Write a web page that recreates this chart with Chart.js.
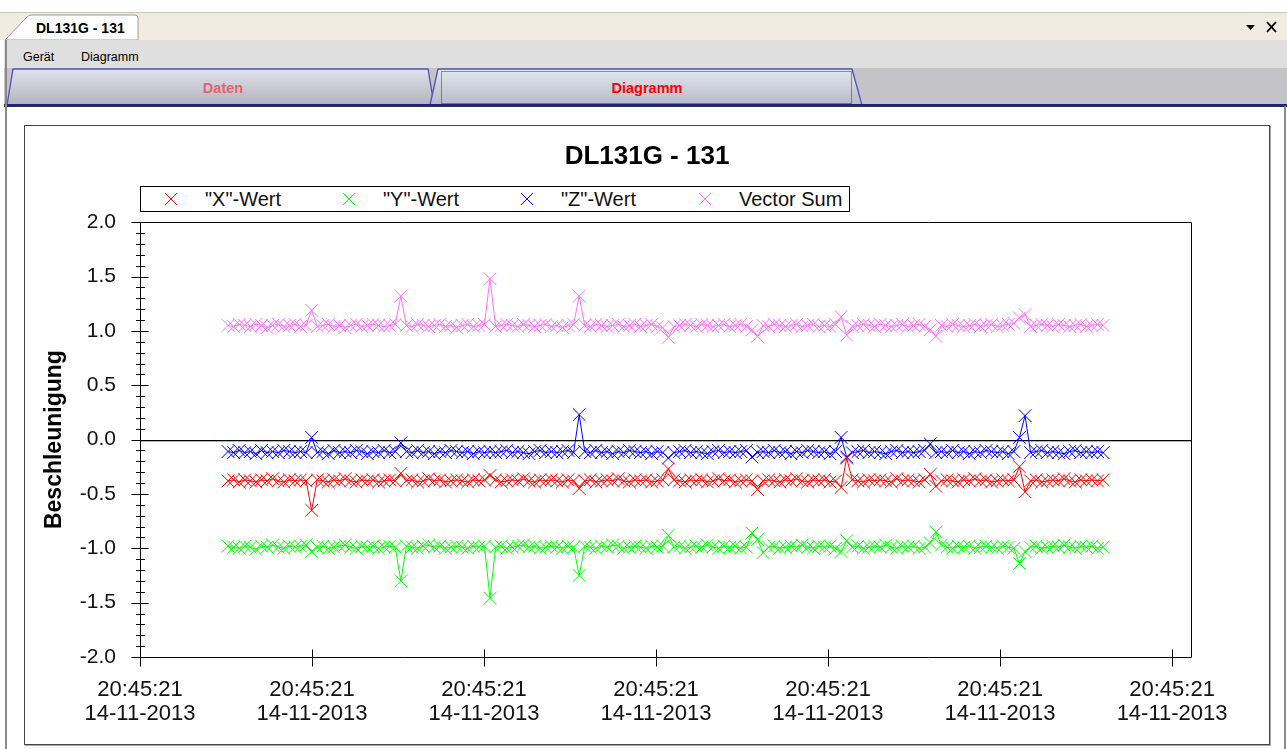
<!DOCTYPE html>
<html>
<head>
<meta charset="utf-8">
<title>DL131G - 131</title>
<script src="https://cdn.jsdelivr.net/npm/chart.js@4.4.1/dist/chart.umd.min.js"></script>
<style>
  html, body { margin: 0; padding: 0; background: #fff; overflow: hidden; }
  body { width: 1287px; height: 749px; position: relative; font-family: 'Liberation Sans', Arial, sans-serif; }
  #chrome { position: absolute; left: 0; top: 0; }
  #frame {
    position: absolute; left: 24px; top: 125px; width: 1244px; height: 618px;
    border: 1px solid #444; box-shadow: 1px 1px 0 #aaa; background: #fff;
  }
  #chart { position: absolute; left: 0; top: 0; }
  #legend {
    position: absolute; left: 115px; top: 60px; width: 710px; height: 26px;
    box-sizing: border-box; border: 1px solid #000; background: #fff;
  }
  #legend .item { position: absolute; top: 0; height: 24px; }
  #legend svg { position: absolute; top: 5px; }
  #legend span { position: absolute; top: 1px; font-size: 20px; line-height: 22px; color: #111; white-space: nowrap; }
</style>
</head>
<body>

<!-- Fensterrahmen, Menü und Registerkarten -->
<svg id="chrome" width="1287" height="749" xmlns="http://www.w3.org/2000/svg">
  <defs>
    <linearGradient id="tabA" x1="0" y1="0" x2="0" y2="1">
      <stop offset="0" stop-color="#dfe3ee"/>
      <stop offset="1" stop-color="#b3b3bb"/>
    </linearGradient>
    <linearGradient id="tabB" x1="0" y1="0" x2="0" y2="1">
      <stop offset="0" stop-color="#e3e8f2"/>
      <stop offset="1" stop-color="#b7bac5"/>
    </linearGradient>
  </defs>
  <rect x="0" y="0" width="1287" height="749" fill="#fff"/>
  <rect x="0" y="12" width="1287" height="28" fill="#f1ece1"/>
  <line x1="0" y1="12.5" x2="1287" y2="12.5" stroke="#cbc7bb"/>
  <path d="M5,40 L27,17 Q29,15 32,15 L135,15 Q138,15 138,18 L138,40 Z" fill="#fff" stroke="#a09d92"/>
  <text x="36" y="33" font-family="Liberation Sans, Arial" font-weight="bold" font-size="14" fill="#000">DL131G - 131</text>
  <polygon points="1246,25 1255,25 1250.5,30" fill="#000"/>
  <line x1="1267" y1="22" x2="1276" y2="32" stroke="#000" stroke-width="1.8"/>
  <line x1="1276" y1="22" x2="1267" y2="32" stroke="#000" stroke-width="1.8"/>

  <rect x="4" y="40" width="1283" height="28" fill="#dfdfdf"/>
  <text x="23" y="61" font-family="Liberation Sans, Arial" font-size="12.5" fill="#000">Gerät</text>
  <text x="81" y="61" font-family="Liberation Sans, Arial" font-size="12.5" fill="#000">Diagramm</text>

  <rect x="4" y="68" width="1283" height="38" fill="#c4c3c7"/>
  <polygon points="7,105 13,69 428,69 434,105" fill="url(#tabA)" stroke="#5151b5" stroke-width="1.3"/>
  <polygon points="430,105 438,69 852,69 862,105" fill="url(#tabB)" stroke="#5151b5" stroke-width="1.3"/>
  <rect x="441.5" y="71.5" width="410" height="32" fill="none" stroke="#333" stroke-dasharray="1,1"/>
  <text x="223" y="93" text-anchor="middle" font-family="Liberation Sans, Arial" font-weight="bold" font-size="14.5" fill="#e8606e">Daten</text>
  <text x="647" y="93" text-anchor="middle" font-family="Liberation Sans, Arial" font-weight="bold" font-size="14.5" fill="#ff0000">Diagramm</text>
  <rect x="4" y="104" width="1283" height="2" fill="#20208c"/>
  <rect x="4" y="106" width="1283" height="1" fill="#333"/>

  <rect x="5" y="40" width="2" height="709" fill="#8a8a8a"/>
  <rect x="1284" y="106" width="2" height="643" fill="#8a8a8a"/>
</svg>

<div id="frame">
  <canvas id="chart" width="1244" height="618"></canvas>
  <div id="legend"></div>
</div>

<script>
(function() {
  'use strict';

  // Messwerte pro Kanal (Beschleunigung in g), 158 Samples
  var xValues = [
    -0.38,-0.37,-0.39,-0.37,-0.38,-0.39,-0.37,-0.38,-0.36,-0.38,-0.39,-0.37,-0.38,-0.37,-0.38,-0.65,
    -0.37,-0.38,-0.39,-0.37,-0.38,-0.36,-0.38,-0.39,-0.37,-0.38,-0.37,-0.39,-0.38,-0.37,-0.38,-0.31,
    -0.38,-0.37,-0.39,-0.38,-0.36,-0.38,-0.37,-0.39,-0.38,-0.37,-0.38,-0.39,-0.37,-0.38,-0.37,-0.33,
    -0.37,-0.39,-0.38,-0.37,-0.38,-0.36,-0.38,-0.39,-0.37,-0.38,-0.37,-0.38,-0.39,-0.37,-0.38,-0.45,
    -0.38,-0.37,-0.39,-0.38,-0.37,-0.38,-0.36,-0.38,-0.39,-0.37,-0.38,-0.37,-0.39,-0.38,-0.37,-0.27,
    -0.37,-0.38,-0.39,-0.37,-0.38,-0.37,-0.39,-0.38,-0.36,-0.38,-0.37,-0.39,-0.38,-0.37,-0.38,-0.46,
    -0.38,-0.37,-0.38,-0.39,-0.37,-0.38,-0.36,-0.38,-0.39,-0.37,-0.38,-0.37,-0.39,-0.38,-0.44,-0.17,
    -0.37,-0.38,-0.39,-0.37,-0.38,-0.37,-0.38,-0.39,-0.36,-0.38,-0.37,-0.38,-0.39,-0.37,-0.32,-0.43,
    -0.38,-0.37,-0.38,-0.39,-0.37,-0.38,-0.36,-0.38,-0.37,-0.39,-0.38,-0.37,-0.38,-0.37,-0.25,-0.48,
    -0.38,-0.37,-0.39,-0.38,-0.37,-0.38,-0.36,-0.38,-0.39,-0.37,-0.38,-0.37,-0.38,-0.37
  ];
  var yValues = [
    -0.98,-0.99,-1.00,-0.98,-0.99,-1.01,-0.98,-0.99,-0.97,-0.99,-1.00,-0.98,-0.99,-0.98,-0.97,-1.03,
    -0.99,-0.98,-1.00,-0.99,-0.98,-0.97,-0.99,-1.00,-0.98,-0.99,-0.98,-1.00,-0.99,-0.98,-0.99,-1.30,
    -0.98,-0.99,-1.00,-0.98,-0.97,-0.99,-0.98,-1.00,-0.99,-0.98,-0.99,-1.00,-0.98,-0.99,-0.98,-1.46,
    -0.99,-0.98,-1.00,-0.99,-0.98,-0.97,-0.99,-0.98,-1.00,-0.99,-0.98,-0.99,-1.00,-0.98,-0.99,-1.25,
    -0.98,-0.99,-1.00,-0.98,-0.99,-0.97,-0.98,-1.00,-0.99,-0.98,-0.99,-1.00,-0.98,-0.99,-0.98,-0.88,
    -0.99,-0.98,-1.00,-0.99,-0.98,-0.99,-0.97,-0.99,-1.00,-0.98,-0.99,-0.98,-1.00,-0.99,-0.86,-0.92,
    -1.04,-0.99,-0.98,-1.00,-0.99,-0.98,-0.99,-0.97,-0.99,-1.00,-0.98,-0.99,-0.98,-1.00,-1.03,-0.93,
    -0.99,-0.98,-1.00,-0.99,-0.98,-0.99,-0.97,-0.99,-1.00,-0.98,-0.99,-0.98,-1.00,-0.99,-0.95,-0.85,
    -0.97,-0.99,-1.00,-0.98,-0.99,-0.98,-1.00,-0.99,-0.98,-0.99,-1.00,-0.98,-0.99,-1.00,-1.14,-1.03,
    -0.99,-0.98,-1.00,-0.99,-0.98,-0.99,-0.97,-0.99,-1.00,-0.98,-0.99,-0.98,-1.00,-0.99
  ];
  var zValues = [
    -0.11,-0.12,-0.10,-0.12,-0.11,-0.13,-0.10,-0.12,-0.11,-0.12,-0.10,-0.11,-0.12,-0.11,-0.12, 0.02,
    -0.12,-0.11,-0.13,-0.10,-0.12,-0.11,-0.12,-0.10,-0.11,-0.13,-0.11,-0.12,-0.10,-0.12,-0.11,-0.03,
    -0.11,-0.12,-0.10,-0.12,-0.11,-0.13,-0.11,-0.12,-0.10,-0.11,-0.12,-0.11,-0.13,-0.11,-0.12,-0.11,
    -0.12,-0.11,-0.10,-0.12,-0.11,-0.12,-0.13,-0.11,-0.10,-0.12,-0.11,-0.12,-0.11,-0.10,-0.12, 0.23,
    -0.11,-0.12,-0.10,-0.12,-0.11,-0.13,-0.11,-0.12,-0.10,-0.11,-0.12,-0.11,-0.13,-0.11,-0.12,-0.17,
    -0.12,-0.11,-0.10,-0.12,-0.11,-0.12,-0.13,-0.11,-0.10,-0.12,-0.11,-0.12,-0.11,-0.10,-0.16,-0.12,
    -0.11,-0.12,-0.10,-0.12,-0.11,-0.13,-0.11,-0.12,-0.10,-0.11,-0.12,-0.11,-0.13,-0.11, 0.02,-0.16,
    -0.12,-0.11,-0.10,-0.12,-0.11,-0.12,-0.13,-0.11,-0.10,-0.12,-0.11,-0.12,-0.11,-0.10,-0.04,-0.12,
    -0.11,-0.12,-0.10,-0.12,-0.11,-0.13,-0.11,-0.12,-0.10,-0.11,-0.12,-0.11,-0.13,-0.11, 0.02, 0.22,
    -0.12,-0.11,-0.10,-0.12,-0.11,-0.12,-0.13,-0.11,-0.10,-0.12,-0.11,-0.12,-0.11,-0.12
  ];
  var sumValues = [
    1.05,1.04,1.06,1.05,1.04,1.06,1.05,1.03,1.05,1.06,1.04,1.05,1.06,1.04,1.05,1.19,
    1.04,1.05,1.06,1.04,1.05,1.03,1.05,1.06,1.04,1.05,1.06,1.05,1.04,1.05,1.06,1.32,
    1.05,1.04,1.06,1.05,1.04,1.05,1.06,1.04,1.05,1.03,1.05,1.06,1.04,1.05,1.06,1.48,
    1.04,1.05,1.06,1.05,1.04,1.06,1.05,1.04,1.05,1.06,1.04,1.05,1.03,1.05,1.06,1.32,
    1.05,1.04,1.06,1.05,1.04,1.05,1.06,1.04,1.05,1.06,1.04,1.05,1.06,1.04,1.03,0.94,
    1.04,1.05,1.06,1.05,1.04,1.06,1.05,1.04,1.05,1.06,1.04,1.05,1.06,1.04,1.01,0.95,
    1.05,1.04,1.06,1.05,1.04,1.05,1.06,1.04,1.05,1.06,1.04,1.05,1.04,1.06,1.13,0.96,
    1.04,1.05,1.06,1.05,1.04,1.06,1.05,1.04,1.05,1.06,1.04,1.05,1.06,1.04,1.01,0.95,
    1.05,1.04,1.06,1.05,1.04,1.05,1.06,1.04,1.05,1.06,1.04,1.05,1.06,1.07,1.12,1.15,
    1.04,1.05,1.06,1.05,1.04,1.06,1.05,1.04,1.05,1.06,1.04,1.05,1.06,1.05
  ];

  // Beschriftung der Zeitachse
  var tickTimes = [ '20:45:21', '20:45:21', '20:45:21', '20:45:21', '20:45:21', '20:45:21', '20:45:21' ];
  var tickDates = [ '14-11-2013', '14-11-2013', '14-11-2013', '14-11-2013', '14-11-2013', '14-11-2013', '14-11-2013' ];

  var seriesNames = [ '"X"-Wert', '"Y"-Wert', '"Z"-Wert', 'Vector Sum' ];

  // Zeitbasis: erster Messpunkt und Abstand zwischen zwei Messungen (in Achseneinheiten)
  var sampleStart = 0.512;
  var sampleStep  = 0.0324;

  var colors = [ '#ff0000', '#00ff00', '#0000ff', '#ff70ff' ];
  var fontFamily = "'Liberation Sans', Arial, sans-serif";

  Chart.defaults.font.family = fontFamily;
  Chart.defaults.color = '#111';

  function toPoints(values) {
    var pts = [];
    for (var i = 0; i < values.length; i++) {
      pts.push({ x: sampleStart + i * sampleStep, y: values[i] });
    }
    return pts;
  }

  function makeDataset(label, values, color) {
    return {
      label: label,
      data: toPoints(values),
      borderColor: color,
      backgroundColor: color,
      borderWidth: 1,
      pointStyle: 'crossRot',
      pointRadius: 9,
      pointBorderWidth: 1,
      pointBorderColor: color,
      fill: false,
      tension: 0
    };
  }

  // Rahmen, Nulllinie und Teilstriche der Achsen
  var axisFrame = {
    id: 'axisFrame',
    beforeDatasetsDraw: function(chart) {
      var ctx = chart.ctx;
      var a = chart.chartArea;
      var xs = chart.scales.x;
      var ys = chart.scales.y;
      var left = Math.round(a.left) + 0.5;
      var right = Math.round(a.right) + 0.5;
      var top = Math.round(a.top) + 0.5;
      var bottom = Math.round(a.bottom) + 0.5;

      ctx.save();
      ctx.strokeStyle = '#000';
      ctx.lineWidth = 1;
      ctx.beginPath();
      ctx.rect(left, top, right - left, bottom - top);

      var y0 = Math.round(ys.getPixelForValue(0)) + 0.5;
      ctx.moveTo(left, y0);
      ctx.lineTo(right, y0);

      // kleine Striche alle 0.1, große alle 0.5
      for (var k = Math.round(ys.min * 10); k <= Math.round(ys.max * 10); k++) {
        var py = Math.round(ys.getPixelForValue(k / 10)) + 0.5;
        var major = (k % 5 === 0);
        ctx.moveTo(left - (major ? 9 : 4.5), py);
        ctx.lineTo(left + (major ? 8 : 4.5), py);
      }

      xs.ticks.forEach(function(t) {
        var px = Math.round(xs.getPixelForValue(t.value)) + 0.5;
        ctx.moveTo(px, bottom - 8);
        ctx.lineTo(px, bottom + 9);
      });
      ctx.stroke();

      ctx.lineWidth = 0.6;
      ctx.beginPath();
      ctx.moveTo(left, y0 + 0.5);
      ctx.lineTo(right, y0 + 0.5);
      ctx.stroke();
      ctx.restore();
    }
  };

  var datasets = [
    makeDataset(seriesNames[0], xValues, colors[0]),
    makeDataset(seriesNames[1], yValues, colors[1]),
    makeDataset(seriesNames[2], zValues, colors[2]),
    makeDataset(seriesNames[3], sumValues, colors[3])
  ];

  var ctx = document.getElementById('chart').getContext('2d');

  var chart = new Chart(ctx, {
    type: 'line',
    data: { datasets: datasets },
    options: {
      responsive: false,
      animation: false,
      events: [],
      layout: { padding: 0 },
      plugins: {
        legend: { display: false },
        tooltip: { enabled: false },
        title: {
          display: true,
          text: 'DL131G - 131',
          color: '#000',
          font: { size: 26, weight: 'bold', family: fontFamily, lineHeight: 1.2 },
          padding: { top: 15, bottom: 50 }
        }
      },
      scales: {
        x: {
          type: 'linear',
          min: 0,
          max: 6.11,
          grid: { display: false, drawTicks: false },
          border: { display: false },
          ticks: {
            stepSize: 1,
            includeBounds: false,
            autoSkip: false,
            maxRotation: 0,
            padding: 21,
            color: '#111',
            font: { size: 22, family: fontFamily, lineHeight: 1.1 },
            callback: function(value, index) {
              return [ tickTimes[index], tickDates[index] ];
            }
          },
          afterFit: function(scale) { scale.height = 87; }
        },
        y: {
          min: -2,
          max: 2,
          grid: { display: false, drawTicks: false },
          border: { display: false },
          ticks: {
            stepSize: 0.5,
            padding: 24,
            color: '#111',
            font: { size: 21, family: fontFamily },
            callback: function(value) { return value.toFixed(1); }
          },
          title: {
            display: true,
            text: 'Beschleunigung',
            color: '#000',
            font: { size: 23, weight: 'bold', family: fontFamily, lineHeight: 1.2 },
            padding: { top: 16, bottom: 0 }
          },
          afterFit: function(scale) { scale.width = 115; }
        },
        // leerer Rand rechts vom Diagramm
        yPad: {
          position: 'right',
          display: true,
          grid: { display: false, drawTicks: false },
          border: { display: false },
          ticks: { display: false },
          afterFit: function(scale) { scale.width = 78; }
        }
      }
    },
    plugins: [ axisFrame ]
  });

  // Legende im Kasten über dem Diagramm
  var legend = document.getElementById('legend');
  var columnWidth = 178;
  chart.data.datasets.forEach(function(ds, i) {
    var item = document.createElement('div');
    item.className = 'item';
    item.style.left = (i * columnWidth) + 'px';
    item.innerHTML =
      '<svg width="14" height="14" style="left:23px">' +
      '<line x1="1" y1="1" x2="13" y2="13" stroke="' + ds.borderColor + '" stroke-width="1"/>' +
      '<line x1="13" y1="1" x2="1" y2="13" stroke="' + ds.borderColor + '" stroke-width="1"/>' +
      '</svg><span style="left:64px"></span>';
    item.querySelector('span').textContent = ds.label;
    legend.appendChild(item);
  });
})();
</script>
</body>
</html>
